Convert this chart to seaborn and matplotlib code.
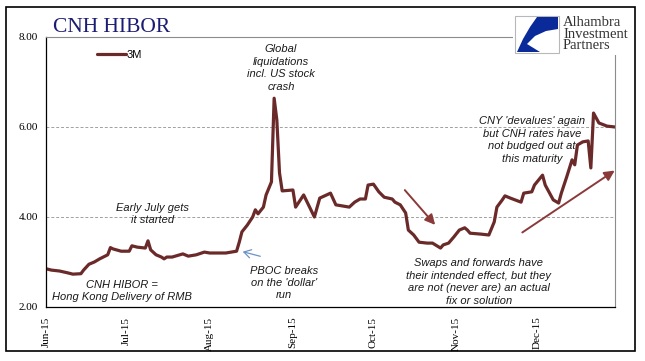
import matplotlib
matplotlib.use("Agg")
import matplotlib.pyplot as plt
import matplotlib.dates as mdates
from matplotlib.patches import FancyArrowPatch, Rectangle, Polygon
from matplotlib.lines import Line2D
import seaborn as sns
import pandas as pd

# ---------------- data ----------------
dates = [
    "2015-06-01", "2015-06-03", "2015-06-06", "2015-06-09", "2015-06-11", "2015-06-14",
    "2015-06-15", "2015-06-17", "2015-06-19", "2015-06-21", "2015-06-24", "2015-06-25",
    "2015-06-26", "2015-06-29", "2015-07-02", "2015-07-03", "2015-07-05", "2015-07-08",
    "2015-07-09", "2015-07-10", "2015-07-12", "2015-07-14", "2015-07-15", "2015-07-16",
    "2015-07-18", "2015-07-22", "2015-07-24", "2015-07-27", "2015-07-30", "2015-08-01",
    "2015-08-04", "2015-08-07", "2015-08-11", "2015-08-12", "2015-08-13", "2015-08-15",
    "2015-08-17", "2015-08-18", "2015-08-19", "2015-08-21", "2015-08-22", "2015-08-24",
    "2015-08-25", "2015-08-26", "2015-08-27", "2015-08-28", "2015-09-01", "2015-09-02",
    "2015-09-05", "2015-09-09", "2015-09-11", "2015-09-15", "2015-09-17", "2015-09-22",
    "2015-09-24", "2015-09-26", "2015-09-28", "2015-09-29", "2015-10-01", "2015-10-03",
    "2015-10-05", "2015-10-08", "2015-10-09", "2015-10-11", "2015-10-13", "2015-10-14",
    "2015-10-16", "2015-10-18", "2015-10-21", "2015-10-23", "2015-10-26", "2015-10-27",
    "2015-10-29", "2015-10-31", "2015-11-02", "2015-11-04", "2015-11-05", "2015-11-06",
    "2015-11-10", "2015-11-13", "2015-11-15", "2015-11-16", "2015-11-18", "2015-11-19",
    "2015-11-21", "2015-11-25", "2015-11-26", "2015-11-29", "2015-11-30", "2015-12-03",
    "2015-12-04", "2015-12-07", "2015-12-09", "2015-12-10", "2015-12-12", "2015-12-14",
    "2015-12-15", "2015-12-16", "2015-12-18", "2015-12-20", "2015-12-21", "2015-12-22",
    "2015-12-24", "2015-12-27", "2015-12-30",
]
hibor_3m = [
    2.85, 2.82, 2.80, 2.76, 2.73, 2.74,
    2.82, 2.95, 3.00, 3.07, 3.16, 3.32,
    3.29, 3.24, 3.24, 3.36, 3.33, 3.31,
    3.47, 3.27, 3.16, 3.11, 3.07, 3.11,
    3.11, 3.18, 3.13, 3.16, 3.22, 3.20,
    3.20, 3.20, 3.24, 3.44, 3.67, 3.82,
    4.00, 4.16, 4.07, 4.22, 4.49, 4.78,
    6.64, 6.16, 4.98, 4.58, 4.60, 4.22,
    4.49, 4.00, 4.42, 4.53, 4.27, 4.22,
    4.33, 4.40, 4.40, 4.71, 4.73, 4.56,
    4.44, 4.40, 4.33, 4.27, 4.09, 3.71,
    3.60, 3.44, 3.42, 3.42, 3.31, 3.38,
    3.42, 3.56, 3.71, 3.76, 3.71, 3.64,
    3.62, 3.60, 3.89, 4.22, 4.38, 4.47,
    4.42, 4.33, 4.53, 4.56, 4.71, 4.93,
    4.71, 4.38, 4.31, 4.53, 4.89, 5.27,
    5.16, 5.60, 5.67, 5.69, 5.09, 6.31,
    6.09, 6.02, 6.00,
]
series_label = "3M"
y_ticks = [2.0, 4.0, 6.0, 8.0]
title_text = "CNH HIBOR"
logo_text = "Alhambra\nInvestment\nPartners"
notes = [
    "Global\nliquidations\nincl. US stock\ncrash",
    "CNY 'devalues' again\nbut CNH rates have\nnot budged out at\nthis maturity",
    "Early July gets\nit started",
    "CNH HIBOR =\nHong Kong Delivery of RMB",
    "PBOC breaks\non the 'dollar'\nrun",
    "Swaps and forwards have\ntheir intended effect, but they\nare not (never are) an actual\nfix or solution",
]

df = pd.DataFrame({"date": pd.to_datetime(dates), "rate": hibor_3m})

# ---------------- figure ----------------
W, H = 645, 361
sns.set_style("white")
plt.rcParams["font.family"] = ["Liberation Serif", "DejaVu Serif"]
plt.rcParams["text.color"] = "black"
plt.rcParams["xtick.color"] = "black"
plt.rcParams["ytick.color"] = "black"
fig = plt.figure(figsize=(W / 100, H / 100), dpi=100)


def P(x, y):
    return (x / W, 1 - y / H)


ax = fig.add_axes([46 / W, 1 - 307 / H, (615 - 46) / W, (307 - 37) / H])

line_color = "#6B2A2A"
sns.lineplot(data=df, x="date", y="rate", ax=ax, color=line_color,
             linewidth=2.3, label=series_label, legend=False)

ax.set_ylim(2, 8)
ax.set_xlim(pd.Timestamp("2015-06-01"), pd.Timestamp("2015-12-30"))
ax.set_yticks(y_ticks)
ax.set_yticklabels([f"{v:.2f}" for v in y_ticks], fontsize=8, color="black")
ax.xaxis.set_major_locator(mdates.MonthLocator())
ax.xaxis.set_major_formatter(mdates.DateFormatter("%b-%y"))
for lab in ax.get_xticklabels():
    lab.set_rotation(90)
    lab.set_fontsize(8)
    lab.set_color("black")
ax.set_xlabel("")
ax.set_ylabel("")
ax.tick_params(axis="both", direction="out", length=4, width=0.8, color="black",
               labelcolor="black", pad=2)
ax.tick_params(axis="x", pad=3)

for v in [4.0, 6.0]:
    ax.axhline(v, color="#A0A0A0", lw=0.7, ls=(0, (3, 2)), zorder=0)

for s in ["left", "bottom"]:
    ax.spines[s].set_color("black")
    ax.spines[s].set_linewidth(0.9)
for s in ["top", "right"]:
    ax.spines[s].set_color("#8C8C8C")
    ax.spines[s].set_linewidth(0.8)

# legend
handle = Line2D([], [], color=line_color, lw=2.3)
ax.legend([handle], [series_label], loc="center left",
          bbox_to_anchor=((97 - 46) / 569, (307 - 55) / 270), frameon=False,
          handlelength=2.6, handletextpad=0.1, borderpad=0, borderaxespad=0,
          prop={"family": "Liberation Sans", "size": 8})

# title
fig.text(*P(53, 32), title_text, color="#1C1C74", fontsize=15.5,
         family="Liberation Serif", ha="left", va="baseline")

# annotations
note_font = dict(family=["Liberation Sans", "DejaVu Sans"], style="italic", fontsize=8,
                 color="#1A1A1A", ha="center", va="center", linespacing=1.3)
note_pos = [(281, 68), (532, 140), (153, 214), (122, 291), (284, 283), (479, 282)]
for txt, (x, y) in zip(notes, note_pos):
    fig.text(*P(x, y), txt, **note_font)

# arrows
arrow_col = "#8B3A3A"
fig.add_artist(FancyArrowPatch(P(263, 257), P(240, 251), transform=fig.transFigure,
                               arrowstyle="->,head_length=5,head_width=3",
                               color="#6C93C8", lw=0.9, mutation_scale=1))
fig.add_artist(FancyArrowPatch(P(403, 188), P(437, 227), transform=fig.transFigure,
                               arrowstyle="-|>,head_length=6,head_width=3",
                               color=arrow_col, lw=1.4, mutation_scale=1))
fig.add_artist(FancyArrowPatch(P(520, 234), P(617, 169), transform=fig.transFigure,
                               arrowstyle="-|>,head_length=6,head_width=3",
                               color=arrow_col, lw=1.4, mutation_scale=1))

# logo
bx0, by0, bx1, by1 = 515, 16, 559, 53
fig.add_artist(Rectangle(P(bx0 - 2, by1 + 2), (bx1 - bx0 + 60) / W, (by1 - by0 + 6) / H,
                         transform=fig.transFigure, facecolor="white", edgecolor="none",
                         zorder=5))
fig.add_artist(Rectangle(P(bx0, by1), (bx1 - bx0) / W, (by1 - by0) / H,
                         transform=fig.transFigure, facecolor="white",
                         edgecolor="#B8B8B8", lw=0.8, zorder=6))
blue_pts = [(537, 17), (558, 17), (558, 29), (546, 31), (535, 36), (527, 44),
            (540, 52), (517, 52), (523, 39), (530, 27)]
fig.add_artist(Polygon([P(x, y) for x, y in blue_pts], closed=True,
                       transform=fig.transFigure, facecolor="#0A2A9A",
                       edgecolor="none", zorder=7))
fig.text(*P(563, 34), logo_text, family="Liberation Serif", fontsize=10.5,
         color="#333333", ha="left", va="center", linespacing=0.82, zorder=8)

# outer border
fig.add_artist(Rectangle(P(6, 351), (635 - 6) / W, (351 - 7) / H,
                         transform=fig.transFigure, facecolor="none",
                         edgecolor="black", lw=1.2, zorder=10))

fig.savefig("out.png", dpi=100)
